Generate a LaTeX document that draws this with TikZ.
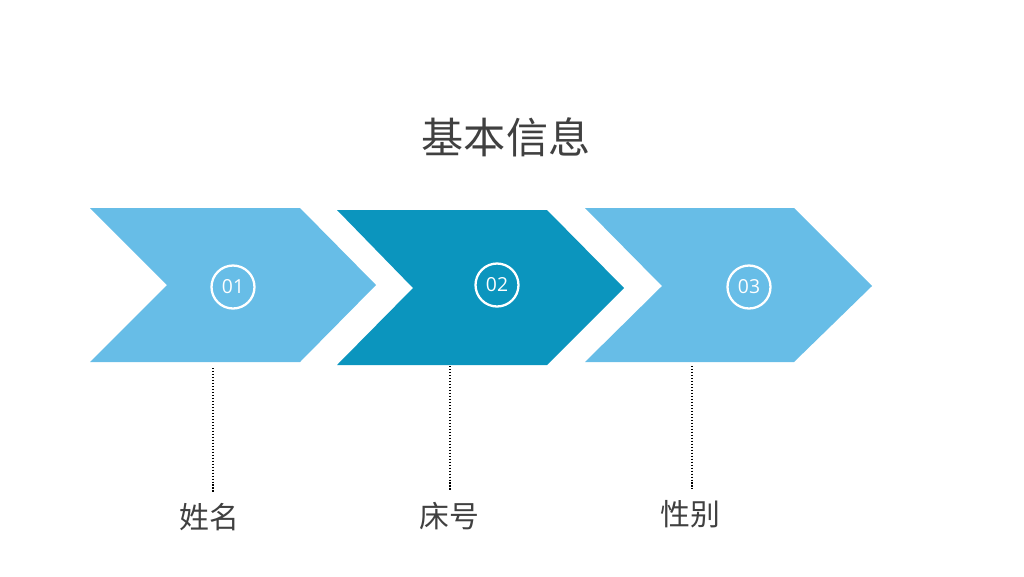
\documentclass[tikz,border=0pt]{standalone}
\usepackage{fontspec}
\setmainfont{Open Sans}
\newfontfamily\cjk{Noto Sans CJK SC}
\usepackage{tikz}
\usetikzlibrary{positioning}
\definecolor{lightblue}{RGB}{103,189,231}
\definecolor{darkblue}{RGB}{11,149,190}
\definecolor{textgray}{RGB}{64,64,64}
\tikzstyle{chevlight} = [fill=lightblue]
\tikzstyle{chevdark} = [fill=darkblue]
\tikzstyle{num} = [circle, draw=white, line width=1.3pt, minimum size=0.86cm,
inner sep=0pt, text=white, font=\fontsize{11}{13}\selectfont]
\tikzstyle{title} = [text=textgray, font=\cjk\fontsize{24}{28}\selectfont]
\tikzstyle{item} = [text=textgray, font=\cjk\fontsize{17}{20}\selectfont]
\tikzstyle{dotline} = [line width=0.8pt, dash pattern=on 0.8pt off 0.9pt,
shorten >=3pt]

\begin{document}
\begin{tikzpicture}[x=0.02cm, y=-0.02cm]
\useasboundingbox (0,0) rectangle (1024,576);

\node(title)[title] at (506,137){基本信息};

% chevrons
\fill[chevlight] (90,208) -- (300,208) -- (376,285) -- (300,362) -- (90,362)
-- (167,285) -- cycle;
\fill[chevdark] (337,210) -- (547,210) -- (624,288) -- (547,365) -- (337,365)
-- (413,288) -- cycle;
\fill[chevlight] (585,208) -- (794,208) -- (872,286) -- (794,362) -- (585,362)
-- (662,286) -- cycle;

\node(one)[num] at (233,287){01};
\node(two)[num] at (497,285){02};
\node(three)[num] at (749,287){03};

\node(name)[item] at (209,517){姓名};
\node(bed)[item] at (449,516){床号};
\node(sex)[item] at (690,514){性别};

\coordinate(top1) at (213,368);
\coordinate(top2) at (450,366);
\coordinate(top3) at (692,366);

\draw[dotline](top1) -- (top1 |- name.north);
\draw[dotline](top2) -- (top2 |- bed.north);
\draw[dotline](top3) -- (top3 |- sex.north);

\end{tikzpicture}
\end{document}
